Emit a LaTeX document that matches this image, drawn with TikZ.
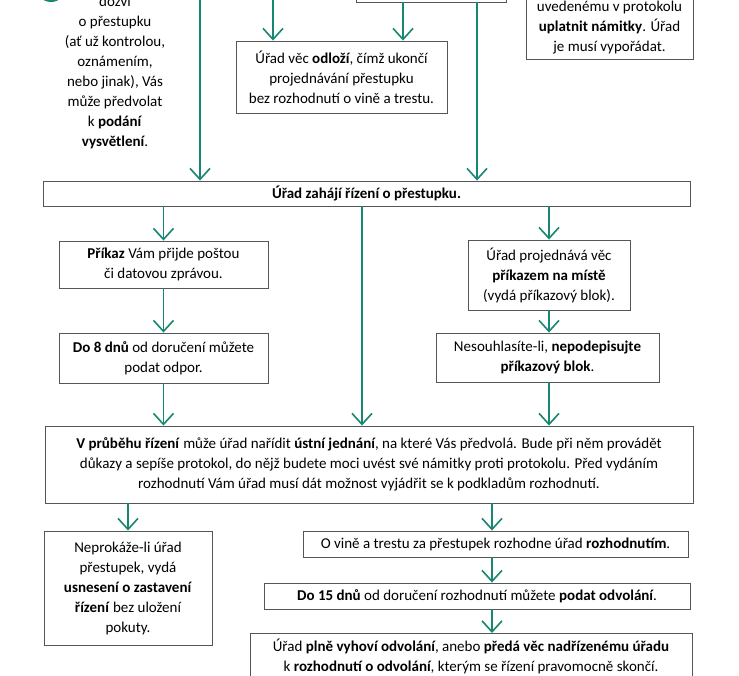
\documentclass[tikz,border=0pt]{standalone}
\usepackage{fontspec}
\setmainfont{Carlito}
\usetikzlibrary{arrows.meta}
\definecolor{grn}{RGB}{22,135,112}
\definecolor{bord}{RGB}{85,85,85}
\tikzset{
  box/.style={draw=bord, line width=0.9pt, fill=white, align=center, inner sep=0pt,
    font=\fontsize{15}{20}\selectfont},
  txt/.style={align=center, inner sep=0pt, font=\fontsize{15}{20}\selectfont},
  arr/.style={draw=grn, line width=1.6pt, -{Straight Barb[length=11pt,width=20pt,line width=1.6pt]}},
}
\begin{document}
\begin{tikzpicture}[x=1pt,y=-1pt]
\useasboundingbox (0,0) rectangle (739,675);

% badge circle, cut at the top
\fill[grn] (51,-13) circle (15pt);

% left free text
\node[txt] (lefttext) at (115,72) {dozví\\o přestupku\\(ať už kontrolou,\\oznámením,\\nebo jinak), Vás\\může předvolat\\k \textbf{podání}\\\textbf{vysvětlení}.};

% top boxes (cut)
\node[box, minimum width=150pt, minimum height=42pt] (tm) at (431,-19) {};
\node[box, minimum width=167pt, minimum height=100pt, anchor=south] (tr) at (609.5,60) {};
\node[txt] (trtext) at (609.5,28) {uvedenému v protokolu\\\textbf{uplatnit námitky}. Úřad\\je musí vypořádat.};

\node[box, minimum width=211pt, minimum height=72pt] (odlozi) at (341.5,77)
  {Úřad věc \textbf{odloží}, čímž ukončí\\projednávání přestupku\\bez rozhodnutí o vině a trestu.};

\node[box, minimum width=647pt, minimum height=25pt] (zahaji) at (366.5,193.5)
  {\textbf{Úřad zahájí řízení o přestupku.}};

\node[box, minimum width=209pt, minimum height=47pt] (prikaz) at (163.5,264.5)
  {\textbf{Příkaz} Vám přijde poštou\\či datovou zprávou.};
\node[box, minimum width=209pt, minimum height=50pt] (do8) at (163.5,358)
  {\textbf{Do 8 dnů} od doručení můžete\\podat odpor.};

\node[box, minimum width=162pt, minimum height=70pt] (projedn) at (549,275)
  {Úřad projednává věc\\\textbf{příkazem na místě}\\(vydá příkazový blok).};
\node[box, minimum width=223pt, minimum height=49pt] (nesouhl) at (547.5,357.5)
  {Nesouhlasíte-li, \textbf{nepodepisujte}\\\textbf{příkazový blok}.};

\node[box, minimum width=648pt, minimum height=77pt] (vprubehu) at (369,464.5)
  {\textbf{V průběhu řízení} může úřad nařídit \textbf{ústní jednání}, na které Vás předvolá. Bude při něm provádět\\důkazy a sepíše protokol, do nějž budete moci uvést své námitky proti protokolu. Před vydáním\\rozhodnutí Vám úřad musí dát možnost vyjádřit se k podkladům rozhodnutí.};

\node[box, minimum width=168pt, minimum height=114pt] (neprok) at (128,588)
  {Neprokáže-li úřad\\přestupek, vydá\\\textbf{usnesení o zastavení}\\\textbf{řízení} bez uložení\\pokuty.};

\node[box, minimum width=385pt, minimum height=26pt] (ovine) at (495.5,544)
  {O vině a trestu za přestupek rozhodne úřad \textbf{rozhodnutím}.};
\node[box, minimum width=426pt, minimum height=26pt] (do15) at (477,596)
  {\textbf{Do 15 dnů} od doručení rozhodnutí můžete \textbf{podat odvolání}.};
\node[box, minimum width=442pt, minimum height=70pt, anchor=north] (plne) at (471,633) {};
\node[txt] (plnetext) at (471,656.5)
  {Úřad \textbf{plně vyhoví odvolání}, anebo \textbf{předá věc nadřízenému úřadu}\\k \textbf{rozhodnutí o odvolání}, kterým se řízení pravomocně skončí.};

% helper coordinates
\coordinate (t1) at (200,-5);
\coordinate (t2) at (273,-5);
\coordinate (c403) at (403,0);
\coordinate (c477) at (477,0);
\coordinate (c362) at (362,0);
\coordinate (c492) at (492,0);

% connectors
\draw[arr] (t1) -- (t1 |- zahaji.north);
\draw[arr] (t2) -- (t2 |- odlozi.north);
\draw[arr] (tm.south -| c403) -- (odlozi.north -| c403);
\draw[arr] (tm.south -| c477) -- (zahaji.north -| c477);

\draw[arr] (zahaji.south -| prikaz) -- (prikaz.north);
\draw[arr] (zahaji.south -| c362) -- (vprubehu.north -| c362);
\draw[arr] (zahaji.south -| projedn) -- (projedn.north);
\draw[arr] (prikaz.south) -- (do8.north);
\draw[arr] (projedn.south) -- (projedn.south |- nesouhl.north);
\draw[arr] (do8.south) -- (do8.south |- vprubehu.north);
\draw[arr] (projedn.south |- nesouhl.south) -- (projedn.south |- vprubehu.north);

\draw[arr] (vprubehu.south -| neprok) -- (neprok.north);
\draw[arr] (vprubehu.south -| c492) -- (ovine.north -| c492);
\draw[arr] (ovine.south -| c492) -- (do15.north -| c492);
\draw[arr] (do15.south -| c492) -- (plne.north -| c492);
\end{tikzpicture}
\end{document}
